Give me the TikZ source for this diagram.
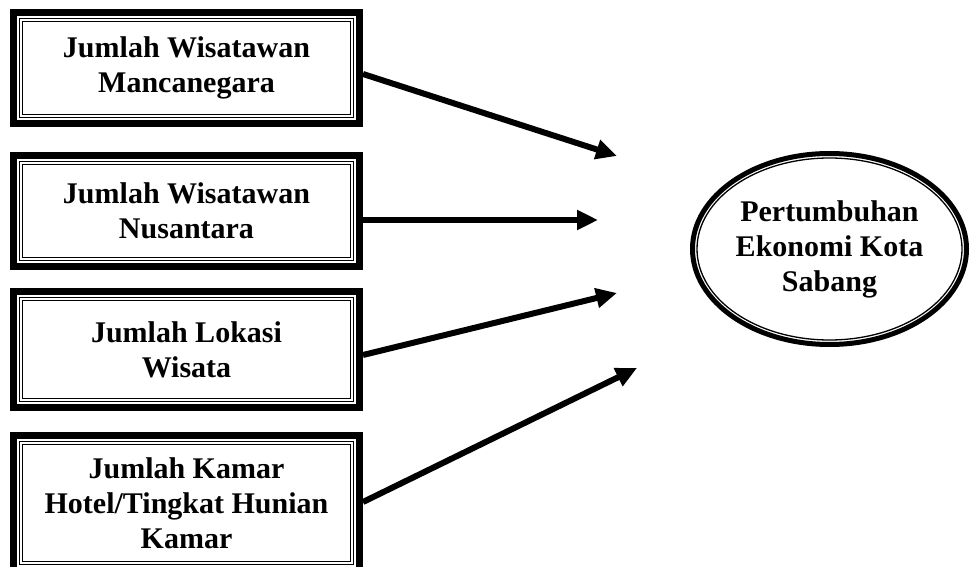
\documentclass[tikz,border=0pt]{standalone}
\usepackage{fontspec}
\setmainfont{Liberation Serif}
\usetikzlibrary{shapes.geometric,arrows.meta,calc}
\tikzset{
  lbl/.style={font=\fontsize{30}{35}\selectfont\bfseries, align=center, text=black},
  varbox/.style={lbl, draw=black, line width=7pt, rectangle, minimum width=346pt, inner sep=0pt},
  innerline/.style={draw=black, line width=1.3pt},
  target/.style={lbl, draw=black, line width=5pt, ellipse, minimum width=274pt, minimum height=191pt, inner sep=0pt},
  link/.style={line width=6pt, -{Triangle[length=21pt,width=19pt]}}
}
\begin{document}
\begin{tikzpicture}[x=1pt,y=1pt]
\useasboundingbox (0,0) rectangle (972,566);
\clip (0,0) rectangle (972,566);
\node[varbox, minimum height=111pt] (b1) at (186.5,498) {Jumlah Wisatawan\\Mancanegara};
\node[varbox, minimum height=111pt] (b2) at (186.5,355) {Jumlah Wisatawan\\Nusantara};
\node[varbox, minimum height=116pt] (b3) at (186.5,216.5) {Jumlah Lokasi\\Wisata};
\node[varbox, minimum height=135pt] (b4) at (186.5,63) {Jumlah Kamar\\Hotel/Tingkat Hunian\\Kamar};
\foreach \b in {b1,b2,b3,b4}{
  \draw[innerline] ([shift={(9.8pt,9.8pt)}]\b.south west) rectangle ([shift={(-9.8pt,-9.8pt)}]\b.north east);
  \draw[innerline] ([shift={(12.2pt,12.2pt)}]\b.south west) rectangle ([shift={(-12.2pt,-12.2pt)}]\b.north east);
}
\node[target] (e) at (829.5,317) {Pertumbuhan\\Ekonomi Kota\\Sabang};
\draw[line width=1.3pt] (e.center) ellipse [x radius=132.5, y radius=91];
\coordinate (t1) at (617,410);
\coordinate (t2) at (598,346);
\coordinate (t3) at (617,273);
\coordinate (t4) at (637,198);
\draw[link] ([yshift=-6pt]b1.east) -- (t1);
\draw[link] ([yshift=-9pt]b2.east) -- (t2);
\draw[link] ([yshift=-5.5pt]b3.east) -- (t3);
\draw[link] ([yshift=1pt]b4.east) -- (t4);
\end{tikzpicture}
\end{document}
